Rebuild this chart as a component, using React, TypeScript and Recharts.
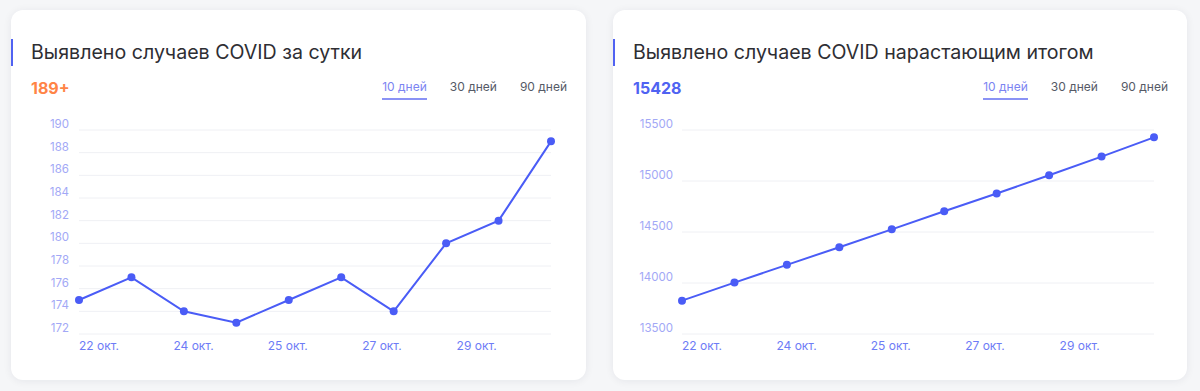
import React from "react";
import { LineChart, Line, XAxis, YAxis, CartesianGrid } from "recharts";

const dayCategories = ["22 окт.", "23 окт.", "24 окт.", "25 окт.", "26 окт.", "27 окт.", "28 окт.", "29 окт.", "30 окт.", "31 окт."];
const dailyCases = [175, 177, 174, 173, 175, 177, 174, 180, 182, 189];
const cumulativeCases = [13827, 14004, 14178, 14351, 14526, 14703, 14877, 15057, 15239, 15428];
const xTickLabels = ["22 окт.", "24 окт.", "25 окт.", "27 окт.", "29 окт."];
const xTickPositions = [0, 1.8, 3.6, 5.4, 7.2];
const dailyYTicks = [172, 174, 176, 178, 180, 182, 184, 186, 188, 190];
const cumulativeYTicks = [13500, 14000, 14500, 15000, 15500];
const periodTabs = ["10 дней", "30 дней", "90 дней"];

const dailyData = dayCategories.map((d, i) => ({ i, day: d, value: dailyCases[i] }));
const cumulativeData = dayCategories.map((d, i) => ({ i, day: d, value: cumulativeCases[i] }));

const LINE = "#4a5cf6";

const YTick = (props: any) => {
  const { x, y, payload } = props;
  return (
    <text x={x} y={y - 6} textAnchor="end" dominantBaseline="central" fill="#a2a8f6" fontSize={11.5}>
      {payload.value}
    </text>
  );
};

const XTick = (props: any) => {
  const { x, y, index } = props;
  return (
    <text x={x} y={y + 11} textAnchor="start" dominantBaseline="central" fill="#6e7cf6" fontSize={12}>
      {xTickLabels[index]}
    </text>
  );
};

function Card(props: {
  left: number;
  width: number;
  title: string;
  value: string;
  valueColor: string;
  data: any[];
  domain: [number, number];
  yTicks: number[];
  yAxisWidth: number;
  rightMargin: number;
  yTickMargin: number;
}) {
  const { left, width, title, value, valueColor, data, domain, yTicks, yAxisWidth, rightMargin, yTickMargin } = props;
  return (
    <div
      style={{
        position: "absolute",
        left,
        top: 10,
        width,
        height: 370,
        background: "#ffffff",
        borderRadius: 12,
        boxShadow: "0 1px 8px rgba(20,30,60,0.07)",
      }}
    >
      <div style={{ position: "absolute", left: 0, top: 29, width: 2, height: 27, background: "#5062f2" }} />
      <div
        style={{
          position: "absolute",
          left: 20,
          top: 29,
          fontSize: 19.6,
          lineHeight: "27px",
          color: "#2e2e33",
          whiteSpace: "nowrap",
        }}
      >
        {title}
      </div>
      <div
        style={{
          position: "absolute",
          left: 20,
          top: 68,
          fontSize: 16,
          lineHeight: "20px",
          fontWeight: 700,
          color: valueColor,
        }}
      >
        {value}
      </div>
      <div style={{ position: "absolute", right: 19, top: 68, display: "flex", gap: 23 }}>
        {periodTabs.map((t, k) => (
          <div
            key={t}
            style={{
              fontSize: 12,
              lineHeight: "18px",
              color: k === 0 ? "#7b84f2" : "#555a66",
              paddingBottom: 2,
              borderBottom: k === 0 ? "2px solid #8a92f5" : "2px solid transparent",
              whiteSpace: "nowrap",
            }}
          >
            {t}
          </div>
        ))}
      </div>
      <div style={{ position: "absolute", left: 0, top: 100 }}>
        <LineChart
          width={width}
          height={260}
          data={data}
          margin={{ top: 20, right: rightMargin, bottom: 6, left: 8 }}
        >
          <CartesianGrid vertical={false} stroke="#eff0f4" strokeWidth={1} />
          <XAxis
            dataKey="i"
            type="number"
            domain={[0, 9]}
            ticks={xTickPositions}
            interval={0}
            axisLine={false}
            tickLine={false}
            tickSize={0}
            tickMargin={0}
            height={30}
            tick={<XTick />}
          />
          <YAxis
            type="number"
            domain={domain}
            ticks={yTicks}
            interval={0}
            axisLine={false}
            tickLine={false}
            tickSize={0}
            tickMargin={yTickMargin}
            width={yAxisWidth}
            tick={<YTick />}
          />
          <Line
            type="linear"
            dataKey="value"
            stroke={LINE}
            strokeWidth={2}
            dot={{ r: 4, fill: LINE, stroke: LINE, strokeWidth: 0 }}
            activeDot={false}
            isAnimationActive={false}
          />
        </LineChart>
      </div>
    </div>
  );
}

export default function App() {
  return (
    <div
      style={{
        position: "absolute",
        left: 0,
        top: 0,
        width: 1200,
        height: 391,
        background: "#f5f6f8",
        fontFamily: "Inter, 'Noto Sans', sans-serif",
        overflow: "hidden",
      }}
    >
      <Card
        left={11}
        width={575}
        title="Выявлено случаев COVID за сутки"
        value="189+"
        valueColor="#ff8446"
        data={dailyData}
        domain={[172, 190]}
        yTicks={dailyYTicks}
        yAxisWidth={60}
        rightMargin={35}
        yTickMargin={10}
      />
      <Card
        left={613}
        width={574}
        title="Выявлено случаев COVID нарастающим итогом"
        value="15428"
        valueColor="#4f62f2"
        data={cumulativeData}
        domain={[13500, 15500]}
        yTicks={cumulativeYTicks}
        yAxisWidth={61}
        rightMargin={33}
        yTickMargin={9}
      />
    </div>
  );
}
